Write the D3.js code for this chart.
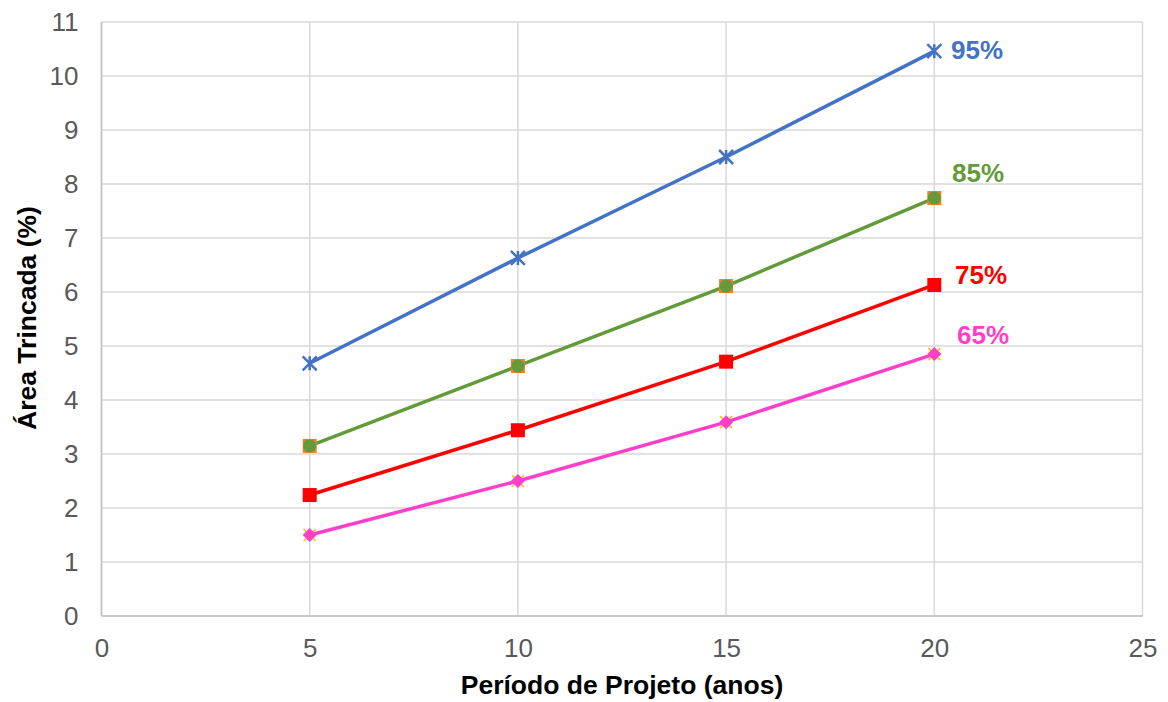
<!DOCTYPE html>
<html><head><meta charset="utf-8">
<script src="https://cdn.jsdelivr.net/npm/d3@7"></script>
<style>body{margin:0;background:#fff;font-family:"Liberation Sans",Arial,sans-serif;}</style>
</head><body>
<svg id="c" width="1168" height="702"></svg>
<script>
const years = [5, 10, 15, 20];
const s95 = [4.68, 6.63, 8.50, 10.46];
const s85 = [3.15, 4.63, 6.11, 7.74];
const s75 = [2.24, 3.44, 4.71, 6.13];
const s65 = [1.50, 2.50, 3.59, 4.85];
const seriesNames = ["95%", "85%", "75%", "65%"];
const xTicks = [0, 5, 10, 15, 20, 25];
const yTicks = [0,1,2,3,4,5,6,7,8,9,10,11];

const svg = d3.select("#c");
const x = d3.scaleLinear().domain([0, 25]).range([101.5, 1142.5]);
const y = d3.scaleLinear().domain([0, 11]).range([616, 22]);

// grid
svg.append("g").selectAll("line").data(yTicks).join("line")
  .attr("x1", x(0)).attr("x2", x(25)).attr("y1", d => y(d)).attr("y2", d => y(d))
  .attr("stroke", "#d9d9d9").attr("stroke-width", 1.5);
svg.append("g").selectAll("line").data(xTicks).join("line")
  .attr("y1", y(0)).attr("y2", y(11)).attr("x1", d => x(d)).attr("x2", d => x(d))
  .attr("stroke", "#d9d9d9").attr("stroke-width", 1.5);
// axis lines
svg.append("line").attr("x1", x(0)).attr("x2", x(0)).attr("y1", y(0)).attr("y2", y(11)).attr("stroke", "#bfbfbf").attr("stroke-width", 1.5);
svg.append("line").attr("x1", x(0)).attr("x2", x(25)).attr("y1", y(0)).attr("y2", y(0)).attr("stroke", "#bfbfbf").attr("stroke-width", 1.5);

// tick labels
const yAxis = d3.axisLeft(y).tickValues(yTicks).tickSize(0).tickPadding(23);
const gy = svg.append("g").attr("transform", `translate(${x(0)},0)`).call(yAxis);
gy.select(".domain").remove();
gy.selectAll("text").attr("font-size", 26).attr("fill", "#595959").attr("font-family", "Liberation Sans, Arial, sans-serif");
const xAxis = d3.axisBottom(x).tickValues(xTicks).tickSize(0).tickPadding(20);
const gx = svg.append("g").attr("transform", `translate(0,${y(0)})`).call(xAxis);
gx.select(".domain").remove();
gx.selectAll("text").attr("font-size", 26).attr("fill", "#595959").attr("font-family", "Liberation Sans, Arial, sans-serif")
  .attr("dy", null).attr("y", 41);

// axis titles
svg.append("text").attr("x", 622).attr("y", 694).attr("text-anchor", "middle")
  .attr("font-size", 26.5).attr("font-weight", "bold").attr("fill", "#000")
  .text("Período de Projeto (anos)");
svg.append("text").attr("transform", "translate(36,318) rotate(-90)").attr("text-anchor", "middle")
  .attr("font-size", 26.5).attr("font-weight", "bold").attr("fill", "#000")
  .text("Área Trincada (%)");

const line = d3.line().x((d, i) => x(years[i])).y(d => y(d));
const series = [
  {name: seriesNames[0], vals: s95, color: "#4472C4", marker: "star", lx: 951, ly: 59},
  {name: seriesNames[1], vals: s85, color: "#639A3A", marker: "circsq", lx: 952, ly: 182},
  {name: seriesNames[2], vals: s75, color: "#FF0000", marker: "square", lx: 955, ly: 284},
  {name: seriesNames[3], vals: s65, color: "#FF3FCC", marker: "diamx", lx: 957, ly: 344},
];

series.forEach(s => {
  svg.append("path").datum(s.vals).attr("d", line).attr("fill", "none")
    .attr("stroke", s.color).attr("stroke-width", 3.5);
  const g = svg.append("g");
  s.vals.forEach((v, i) => {
    const cx = x(years[i]), cy = y(v);
    if (s.marker === "star") {
      const r = 7;
      g.append("path").attr("d", `M${cx-r},${cy-r}L${cx+r},${cy+r}M${cx-r},${cy+r}L${cx+r},${cy-r}M${cx},${cy-r}L${cx},${cy+r}`)
        .attr("stroke", s.color).attr("stroke-width", 2.5);
    } else if (s.marker === "circsq") {
      g.append("rect").attr("x", cx-7).attr("y", cy-7).attr("width", 14).attr("height", 14).attr("fill", "#ED7D31");
      g.append("circle").attr("cx", cx).attr("cy", cy).attr("r", 6.5).attr("fill", s.color);
    } else if (s.marker === "square") {
      g.append("rect").attr("x", cx-7).attr("y", cy-7).attr("width", 14).attr("height", 14).attr("fill", s.color);
    } else {
      const r = 6;
      g.append("path").attr("d", `M${cx-r},${cy-r}L${cx+r},${cy+r}M${cx-r},${cy+r}L${cx+r},${cy-r}`)
        .attr("stroke", "#FFC000").attr("stroke-width", 1.5);
      g.append("path").attr("d", `M${cx},${cy-7}L${cx+7},${cy}L${cx},${cy+7}L${cx-7},${cy}Z`).attr("fill", s.color);
    }
  });
  svg.append("text").attr("x", s.lx).attr("y", s.ly).attr("font-size", 26).attr("font-weight", "bold")
    .attr("fill", s.color).text(s.name);
});
</script>
</body></html>
